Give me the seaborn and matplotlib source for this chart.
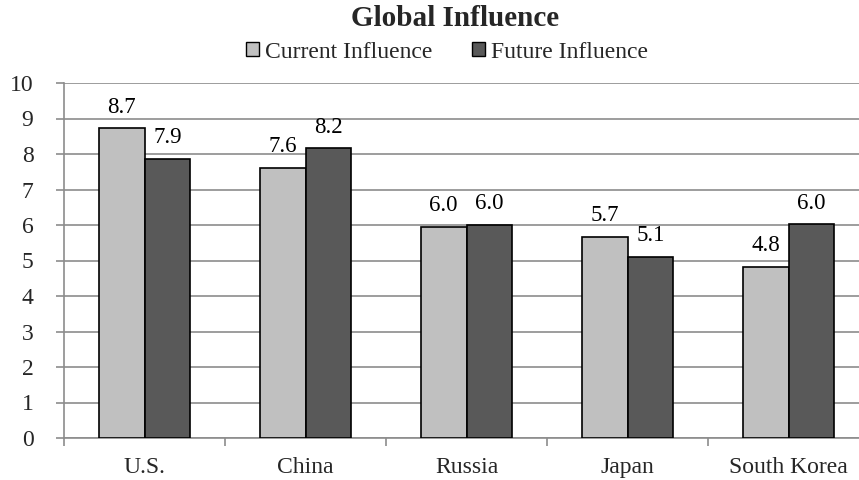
import matplotlib
matplotlib.use("Agg")
import matplotlib.pyplot as plt
import seaborn as sns
import pandas as pd
import numpy as np

countries = ["U.S.", "China", "Russia", "Japan", "South Korea"]
current_influence = [8.72, 7.61, 5.95, 5.66, 4.82]
future_influence = [7.86, 8.16, 6.01, 5.10, 6.02]
series_names = ["Current Influence", "Future Influence"]
y_ticks = list(range(0, 11))

df = pd.DataFrame({
    "country": countries * 2,
    "value": current_influence + future_influence,
    "series": [series_names[0]] * 5 + [series_names[1]] * 5,
})

sns.set_theme(style="white")
plt.rcParams["font.family"] = ["Liberation Serif", "DejaVu Serif"]

fig = plt.figure(figsize=(8.59, 4.8), dpi=100)
# plot area runs past the right edge, like the cropped original
ax = fig.add_axes([64 / 859, 42 / 480, 805 / 859, 355 / 480])

grid_col = "#8c8c8c"
sns.barplot(
    data=df, x="country", y="value", hue="series", ax=ax,
    palette=["#c0c0c0", "#595959"], width=0.57, saturation=1,
    edgecolor="black", linewidth=1.2, errorbar=None, zorder=3,
)

for cont in ax.containers:
    for bar in cont:
        h = bar.get_height()
        ax.text(bar.get_x() + bar.get_width() / 2, h + 0.3, f"{h:.1f}",
                ha="center", va="bottom", fontsize=16.5, color="black")

ax.set_ylim(0, 10)
ax.set_yticks(y_ticks)
ax.set_xlim(-0.5, len(countries) - 0.5)
ax.yaxis.grid(True, color=grid_col, linewidth=1.2, zorder=0)
ax.set_axisbelow(True)
ax.set_xlabel("")
ax.set_ylabel("")

for side in ["top", "right"]:
    ax.spines[side].set_visible(False)
for side in ["left", "bottom"]:
    ax.spines[side].set_color(grid_col)
    ax.spines[side].set_linewidth(1.2)

# category boundary ticks on the x axis
ax.set_xticks(np.arange(len(countries)))
ax.set_xticklabels(countries, fontsize=17)
ax.set_xticks(np.arange(-0.5, len(countries)), minor=True)
ax.tick_params(axis="x", which="major", length=0, pad=14)
ax.tick_params(axis="x", which="minor", length=6, width=1.2, color=grid_col, bottom=True)
ax.tick_params(axis="y", length=6, width=1.2, color=grid_col, left=True,
               labelsize=17, pad=16)

leg = ax.legend(
    loc="center", bbox_to_anchor=(447 / 859, 1 - 52 / 480), bbox_transform=fig.transFigure,
    ncol=2, frameon=False, fontsize=17, handlelength=0.55, handleheight=0.55,
    handletextpad=0.25, columnspacing=1.7,
)
for h in leg.legend_handles:
    h.set_edgecolor("black")
    h.set_linewidth(1.0)

fig.text(455 / 859, 1 - 18 / 480, "Global Influence", ha="center", va="center",
         fontsize=21, fontweight="bold")

fig.savefig("out.png", dpi=100)
